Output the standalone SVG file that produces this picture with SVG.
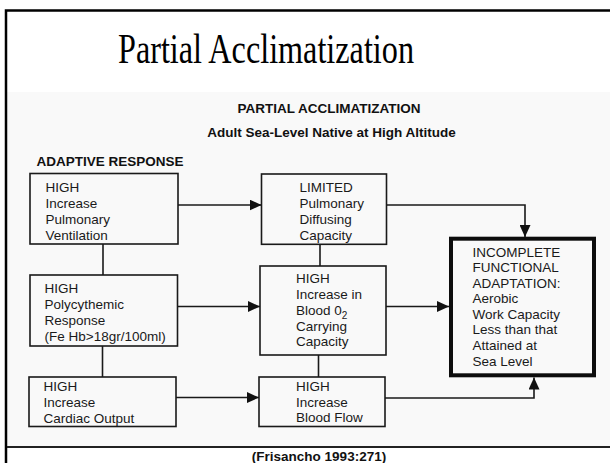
<svg xmlns="http://www.w3.org/2000/svg" width="610" height="463" viewBox="0 0 610 463">
<defs>
<style>
.bx{fill:none;stroke:#1a1a1a;stroke-width:1.6}
.thick{fill:none;stroke:#0d0d0d;stroke-width:4}
.cn{fill:none;stroke:#1a1a1a;stroke-width:1.6}
.t{font-family:"Liberation Sans",Arial,sans-serif;font-size:13.5px;fill:#1a1a1a}
.b{font-family:"Liberation Sans",Arial,sans-serif;font-weight:bold;font-size:13.5px;fill:#111}
</style>
<marker id="ah" markerUnits="userSpaceOnUse" markerWidth="13" markerHeight="11" refX="12" refY="5.5" orient="auto">
<path d="M0,0 L12,5.5 L0,11 z" fill="#111"/>
</marker>
</defs>
<rect x="0" y="0" width="610" height="463" fill="#fff"/>
<rect x="7" y="92" width="603" height="354" fill="#f9f9f9"/>
<path d="M6,463 V10.5 H610" fill="none" stroke="#000" stroke-width="2.5"/>
<line x1="7" y1="447" x2="610" y2="447" stroke="#222" stroke-width="2.2"/>
<text x="266" y="62.5" font-family="'Liberation Serif','Times New Roman',serif" font-size="42" textLength="296" lengthAdjust="spacingAndGlyphs" text-anchor="middle" fill="#000">Partial Acclimatization</text>
<text class="b" x="329" y="112.5" text-anchor="middle">PARTIAL ACCLIMATIZATION</text>
<text class="b" x="331.5" y="136.5" text-anchor="middle">Adult Sea-Level Native at High Altitude</text>
<text class="b" x="36.5" y="166" font-size="13.8">ADAPTIVE RESPONSE</text>
<g id="connectors">
<path class="cn" d="M103,244 V275"/>
<path class="cn" d="M102.5,346 V377"/>
<path class="cn" d="M320,244.3 V266"/>
<path class="cn" d="M318.5,355 V377"/>
<path class="cn" d="M178,205 H261.5" marker-end="url(#ah)"/>
<path class="cn" d="M177.5,306.5 H260" marker-end="url(#ah)"/>
<path class="cn" d="M176,397.5 H259" marker-end="url(#ah)"/>
<path class="cn" d="M386.5,205 H525 V237" marker-end="url(#ah)"/>
<path class="cn" d="M386,306.5 H449" marker-end="url(#ah)"/>
<path class="cn" d="M385,398 H534 V377.5" marker-end="url(#ah)"/>
</g>
<g id="n1">
<rect class="bx" x="30" y="173.5" width="148" height="70.5"/>
<text class="t" x="45.5" y="191.5">HIGH</text>
<text class="t" x="45.5" y="207.5">Increase</text>
<text class="t" x="45.5" y="223.5">Pulmonary</text>
<text class="t" x="45.5" y="239.5">Ventilation</text>
</g>
<g id="n2">
<rect class="bx" x="30" y="275" width="147.5" height="71"/>
<text class="t" x="44.5" y="293">HIGH</text>
<text class="t" x="44.5" y="309">Polycythemic</text>
<text class="t" x="44.5" y="325">Response</text>
<text class="t" x="44.5" y="341">(Fe Hb&gt;18gr/100ml)</text>
</g>
<g id="n3">
<rect class="bx" x="29" y="377" width="147" height="49.5"/>
<text class="t" x="43.5" y="391">HIGH</text>
<text class="t" x="43.5" y="407">Increase</text>
<text class="t" x="43.5" y="422.5">Cardiac Output</text>
</g>
<g id="n4">
<rect class="bx" x="261.5" y="174" width="125" height="70.3"/>
<text class="t" x="299.5" y="191.5">LIMITED</text>
<text class="t" x="299.5" y="207.5">Pulmonary</text>
<text class="t" x="299.5" y="223.5">Diffusing</text>
<text class="t" x="299.5" y="239.5">Capacity</text>
</g>
<g id="n5">
<rect class="bx" x="260" y="266" width="126" height="89"/>
<text class="t" x="296" y="283">HIGH</text>
<text class="t" x="296" y="299">Increase in</text>
<text class="t" x="296" y="315">Blood 0<tspan font-size="10" dy="3.5">2</tspan></text>
<text class="t" x="296" y="331">Carrying</text>
<text class="t" x="296" y="346">Capacity</text>
</g>
<g id="n6">
<rect class="bx" x="259" y="377" width="126" height="49.5"/>
<text class="t" x="296" y="391">HIGH</text>
<text class="t" x="296" y="406.5">Increase</text>
<text class="t" x="296" y="422">Blood Flow</text>
</g>
<g id="n7">
<rect class="thick" x="451" y="238.7" width="143" height="136.6"/>
<text class="t" x="472.5" y="256.5">INCOMPLETE</text>
<text class="t" x="472.5" y="272">FUNCTIONAL</text>
<text class="t" x="472.5" y="287.5">ADAPTATION:</text>
<text class="t" x="472.5" y="303">Aerobic</text>
<text class="t" x="472.5" y="318.5">Work Capacity</text>
<text class="t" x="472.5" y="334">Less than that</text>
<text class="t" x="472.5" y="350">Attained at</text>
<text class="t" x="472.5" y="365.5">Sea Level</text>
</g>
<text class="b" x="319" y="461" font-size="17.5" text-anchor="middle">(Frisancho 1993:271)</text>
</svg>
